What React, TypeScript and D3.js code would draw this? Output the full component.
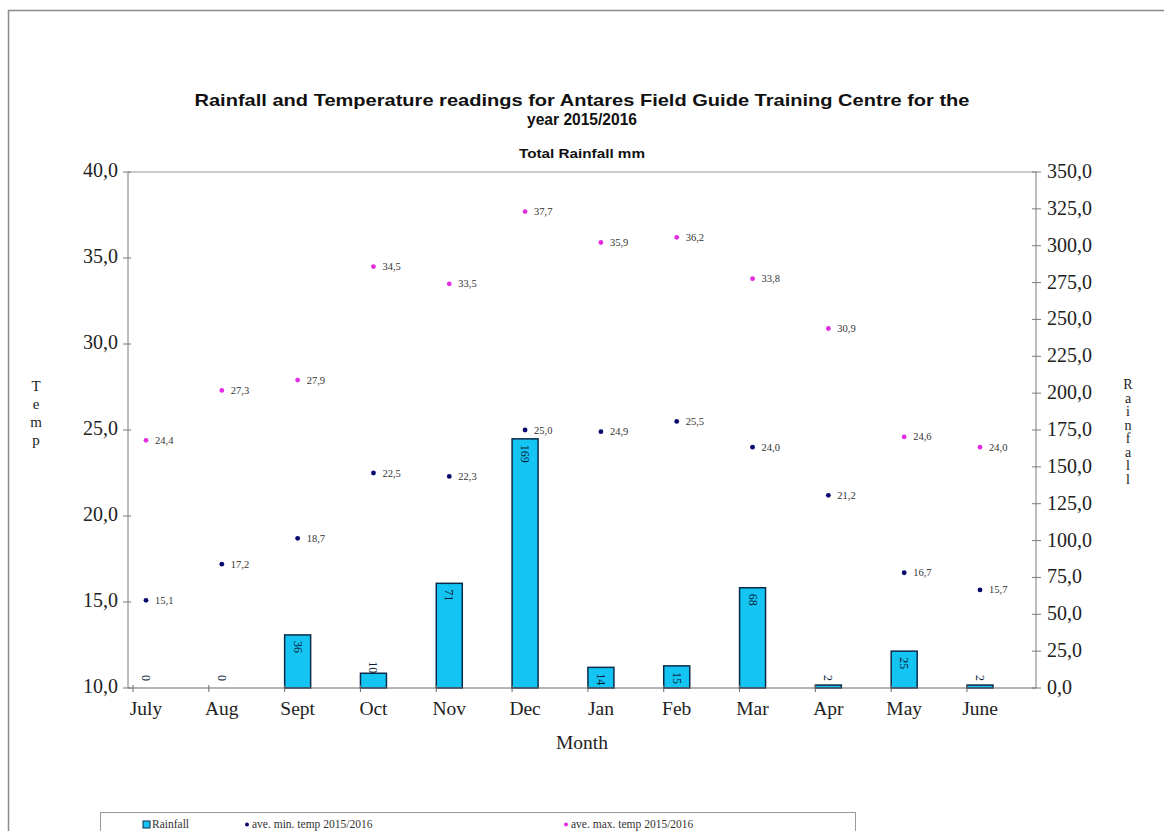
import React from "react";
import * as d3 from "d3";

const months = ["July", "Aug", "Sept", "Oct", "Nov", "Dec", "Jan", "Feb", "Mar", "Apr", "May", "June"];
const rainfall = [0, 0, 36, 10, 71, 169, 14, 15, 68, 2, 25, 2];
const minTemp = [15.1, 17.2, 18.7, 22.5, 22.3, 25.0, 24.9, 25.5, 24.0, 21.2, 16.7, 15.7];
const maxTemp = [24.4, 27.3, 27.9, 34.5, 33.5, 37.7, 35.9, 36.2, 33.8, 30.9, 24.6, 24.0];
const tempTicks = [10, 15, 20, 25, 30, 35, 40];
const rainTicks = [0, 25, 50, 75, 100, 125, 150, 175, 200, 225, 250, 275, 300, 325, 350];

const W = 1164;
const H = 831;
const left = 128;
const right = 1036;
const top = 172;
const bottom = 688;

const serif = "'Liberation Serif', 'Times New Roman', serif";
const sans = "'Liberation Sans', Arial, sans-serif";
const fmt = (v: number) => v.toFixed(1).replace(".", ",");

const BAR_FILL = "#14c4f2";
const BAR_EDGE = "#0b2a4a";
const MIN_COL = "#0a0a6e";
const MAX_COL = "#e22ce0";

export default function App() {
  const x = d3.scalePoint<string>().domain(months).range([146, 980]);
  const yT = d3.scaleLinear().domain([10, 40]).range([bottom, top]);
  const yR = d3.scaleLinear().domain([0, 350]).range([bottom, top]);
  const barW = 26;

  return (
    <svg
      width={W}
      height={H}
      style={{ position: "absolute", left: 0, top: 0, background: "#fff" }}
    >
      {/* outer frame */}
      <path d={`M8.5,${H} V10.5 H${W}`} fill="none" stroke="#8a8a8a" strokeWidth={1.5} />

      {/* titles */}
      <g fontFamily={sans} fontWeight="bold" textAnchor="middle" fill="#111">
        <text x={582} y={106} fontSize={16.5} textLength={775} lengthAdjust="spacingAndGlyphs">
          Rainfall and Temperature readings for Antares Field Guide Training Centre for the
        </text>
        <text x={582} y={125} fontSize={16.5} textLength={110} lengthAdjust="spacingAndGlyphs">
          year 2015/2016
        </text>
        <text x={582} y={158} fontSize={13.5} textLength={126} lengthAdjust="spacingAndGlyphs">
          Total Rainfall  mm
        </text>
      </g>

      {/* plot frame */}
      <line x1={left} x2={right} y1={top} y2={top} stroke="#9a9a9a" />
      <line x1={left} x2={left} y1={top} y2={bottom} stroke="#7a7a7a" />
      <line x1={right} x2={right} y1={top} y2={bottom} stroke="#7a7a7a" />

      {/* left axis */}
      <g fontFamily={serif} fontSize={20} fill="#222">
        {tempTicks.map((t) => (
          <g key={t}>
            <line x1={left - 5} x2={left + 3} y1={yT(t)} y2={yT(t)} stroke="#7a7a7a" />
            <text x={left - 10} y={yT(t) + 5} textAnchor="end">{fmt(t)}</text>
          </g>
        ))}
      </g>

      {/* right axis */}
      <g fontFamily={serif} fontSize={20} fill="#222">
        {rainTicks.map((t) => (
          <g key={t}>
            <line x1={right - 4} x2={right + 5} y1={yR(t)} y2={yR(t)} stroke="#7a7a7a" />
            <text x={right + 11} y={yR(t) + 6}>{fmt(t)}</text>
          </g>
        ))}
      </g>

      {/* axis titles, stacked letters */}
      <g fontFamily={serif} fill="#222" textAnchor="middle">
        <text fontSize={15}>
          {"Temp".split("").map((c, i) => (
            <tspan key={i} x={36} y={391 + i * 18}>{c}</tspan>
          ))}
        </text>
        <text fontSize={14}>
          {"Rainfall".split("").map((c, i) => (
            <tspan key={i} x={1128} y={389 + i * 13.5}>{c}</tspan>
          ))}
        </text>
        <text x={582} y={749} fontSize={19.5}>Month</text>
      </g>

      {/* bars */}
      {months.map((m, i) =>
        rainfall[i] > 0 ? (
          <rect
            key={m}
            x={(x(m) as number) - barW / 2}
            y={yR(rainfall[i])}
            width={barW}
            height={bottom - yR(rainfall[i])}
            fill={BAR_FILL}
            stroke={BAR_EDGE}
            strokeWidth={1.5}
          />
        ) : null
      )}

      {/* x axis */}
      <line x1={left} x2={right} y1={bottom} y2={bottom} stroke="#6a6a6a" />
      {months.map((m) => (
        <line
          key={m}
          x1={(x(m) as number) - barW / 2}
          x2={(x(m) as number) - barW / 2}
          y1={bottom - 3}
          y2={bottom + 4}
          stroke="#6a6a6a"
        />
      ))}
      <g fontFamily={serif} fontSize={19.5} fill="#222" textAnchor="middle">
        {months.map((m) => (
          <text key={m} x={x(m)} y={715}>{m}</text>
        ))}
      </g>

      {/* bar labels */}
      <g fontFamily={serif} fontSize={12} fill="#0b1f3a">
        {months.map((m, i) => {
          const cx = x(m) as number;
          const y0 = yR(rainfall[i]);
          const h = bottom - y0;
          const label = String(rainfall[i]);
          const len = label.length * 6;
          const inside = h >= 18;
          const ty = inside ? y0 + 6 : Math.min(y0, bottom - 7) - len;
          return (
            <text key={m} transform={`translate(${cx - 4},${ty}) rotate(90)`}>
              {label}
            </text>
          );
        })}
      </g>

      {/* min temp points */}
      {months.map((m, i) => (
        <g key={"min" + m}>
          <circle cx={x(m)} cy={yT(minTemp[i])} r={2.4} fill={MIN_COL} />
          <text
            x={(x(m) as number) + 9}
            y={yT(minTemp[i]) + 3.5}
            fontFamily={serif}
            fontSize={10.5}
            fill="#333"
          >
            {fmt(minTemp[i])}
          </text>
        </g>
      ))}

      {/* max temp points */}
      {months.map((m, i) => (
        <g key={"max" + m}>
          <circle cx={x(m)} cy={yT(maxTemp[i])} r={2.4} fill={MAX_COL} />
          <text
            x={(x(m) as number) + 9}
            y={yT(maxTemp[i]) + 3.5}
            fontFamily={serif}
            fontSize={10.5}
            fill="#333"
          >
            {fmt(maxTemp[i])}
          </text>
        </g>
      ))}

      {/* legend */}
      <rect x={100.5} y={812.5} width={755} height={30} fill="#fff" stroke="#9a9a9a" />
      <g fontFamily={serif} fontSize={11.5} fill="#333">
        <rect x={143} y={821} width={7} height={7} fill={BAR_FILL} stroke={BAR_EDGE} />
        <text x={152} y={828}>Rainfall</text>
        <circle cx={247} cy={824.5} r={2} fill={MIN_COL} />
        <text x={252} y={828}>ave. min. temp 2015/2016</text>
        <circle cx={566} cy={824.5} r={2} fill={MAX_COL} />
        <text x={571} y={828}>ave. max. temp 2015/2016</text>
      </g>
    </svg>
  );
}
